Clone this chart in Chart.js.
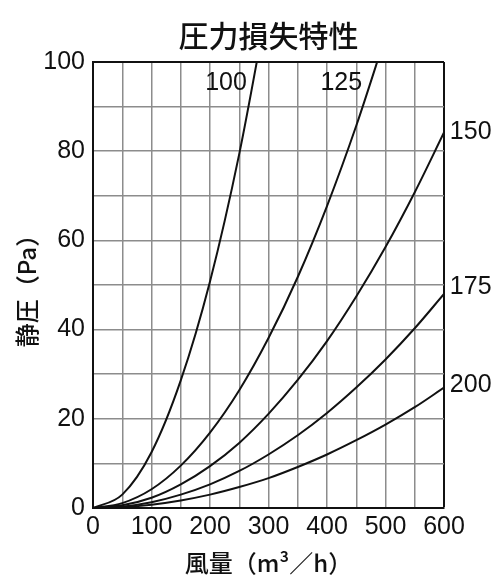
<!DOCTYPE html>
<html>
<head>
<meta charset="utf-8">
<script src="https://cdn.jsdelivr.net/npm/chart.js@4/dist/chart.umd.min.js"></script>
<style>
  html, body { margin: 0; padding: 0; background: #fff; }
  #wrap { width: 500px; height: 582px; }
</style>
</head>
<body>
<div id="wrap"><canvas id="loss-chart"></canvas></div>
<script>
// Air flow (m3/h), read every 50
var flow = [0, 50, 100, 150, 200, 250, 300, 350, 400, 450, 500, 550, 600];

// Static pressure (Pa) per duct size
var curve_names = ["100", "125", "150", "175", "200"];
var p100 = [0, 3.0, 12.5, 28.6, 50.8, 79.4, 114.3];
var p125 = [0, 1.1, 4.2, 9.5, 16.9, 26.4, 38.1, 51.8, 67.7, 85.7, 105.8];
var p150 = [0, 0.6, 2.3, 5.3, 9.4, 14.6, 21.1, 28.7, 37.4, 47.4, 58.5, 70.8, 84.2];
var p175 = [0, 0.3, 1.3, 3.0, 5.3, 8.3, 12.0, 16.3, 21.3, 27.0, 33.3, 40.3, 48.0];
var p200 = [0, 0.2, 0.75, 1.7, 3.0, 4.7, 6.7, 9.2, 12.0, 15.2, 18.7, 22.6, 27.0];

var x_ticks = [0, 100, 200, 300, 400, 500, 600];
var y_ticks = [0, 20, 40, 60, 80, 100];

var chart_title = "圧力損失特性";
var jp_font = "'Noto Sans CJK JP', 'Noto Sans', sans-serif";
var num_font = "'Liberation Sans', Arial, sans-serif";

function toPoints(values) {
	var pts = [];
	for (var i = 0; i < values.length; i++) {
		pts.push({ x: flow[i], y: values[i] });
	}
	return pts;
}

var all_series = [p100, p125, p150, p175, p200];
var datasets = [];
for (var i = 0; i < all_series.length; i++) {
	datasets.push({
		label: curve_names[i],
		data: toPoints(all_series[i]),
		borderColor: "#111",
		borderWidth: 2,
		pointRadius: 0,
		fill: false,
		cubicInterpolationMode: "monotone"
	});
}

// where each curve's name goes (data coords + text alignment)
var label_spots = [
	{ x: 263, y: 95.3, align: "right" },
	{ x: 460, y: 95.3, align: "right" },
	{ x: 610, y: 84.3, align: "left" },
	{ x: 610, y: 49.5, align: "left" },
	{ x: 610, y: 27.6, align: "left" }
];

// curve names + title centred over the plot area
var curveLabels = {
	id: "curveLabels",
	afterDatasetsDraw: function(chart) {
		var ctx = chart.ctx;
		var xs = chart.scales.x, ys = chart.scales.y;
		var area = chart.chartArea;
		ctx.save();
		ctx.fillStyle = "#111";
		ctx.font = "25px " + num_font;
		ctx.textBaseline = "middle";
		for (var i = 0; i < label_spots.length; i++) {
			var s = label_spots[i];
			ctx.textAlign = s.align;
			ctx.fillText(curve_names[i], xs.getPixelForValue(s.x), ys.getPixelForValue(s.y));
		}
		ctx.font = "500 30px " + jp_font;
		ctx.textAlign = "center";
		ctx.fillText(chart_title, (area.left + area.right) / 2, area.top - 26);
		ctx.restore();
	}
};

function gridColor(max) {
	return function(c) {
		if (c.tick && c.tick.value === max) return "#111";
		return "#8c8c8c";
	};
}
function gridWidth(max) {
	return function(c) {
		if (c.tick && c.tick.value === max) return 2;
		return 1.5;
	};
}

new Chart(document.getElementById("loss-chart"), {
	type: "line",
	data: { datasets: datasets },
	plugins: [curveLabels],
	options: {
		responsive: true,
		maintainAspectRatio: false,
		animation: false,
		layout: { padding: { top: 62, right: 56, bottom: 0, left: 0 } },
		plugins: {
			legend: { display: false },
			tooltip: { enabled: false },
			title: { display: false }
		},
		scales: {
			x: {
				type: "linear",
				min: 0,
				max: 600,
				afterFit: function(scale) { scale.height = 74; },
				afterBuildTicks: function(scale) {
					var t = [];
					for (var v = 0; v <= 600; v += 50) t.push({ value: v });
					scale.ticks = t;
				},
				ticks: {
					color: "#111",
					font: { family: num_font, size: 25 },
					padding: 4,
					maxRotation: 0,
					autoSkip: false,
					callback: function(v) { return x_ticks.indexOf(v) >= 0 ? String(v) : ""; }
				},
				grid: { color: gridColor(600), lineWidth: gridWidth(600), drawTicks: false },
				border: { color: "#111", width: 2 },
				title: {
					display: true,
					text: "風量（m³／h）",
					color: "#111",
					font: { family: jp_font, size: 24, weight: "500" },
					padding: { top: 0, bottom: 5 }
				}
			},
			y: {
				min: 0,
				max: 100,
				afterFit: function(scale) { scale.width = 93; },
				afterBuildTicks: function(scale) {
					var t = [];
					for (var v = 0; v <= 100; v += 10) t.push({ value: v });
					scale.ticks = t;
				},
				ticks: {
					color: "#111",
					font: { family: num_font, size: 25 },
					padding: 8,
					autoSkip: false,
					callback: function(v) { return y_ticks.indexOf(v) >= 0 ? String(v) : ""; }
				},
				grid: { color: gridColor(100), lineWidth: gridWidth(100), drawTicks: false },
				border: { color: "#111", width: 2 },
				title: {
					display: true,
					text: "静圧（Pa）",
					color: "#111",
					font: { family: jp_font, size: 24, weight: "500" },
					padding: { top: 12, bottom: 0 }
				}
			}
		}
	}
});
</script>
</body>
</html>
